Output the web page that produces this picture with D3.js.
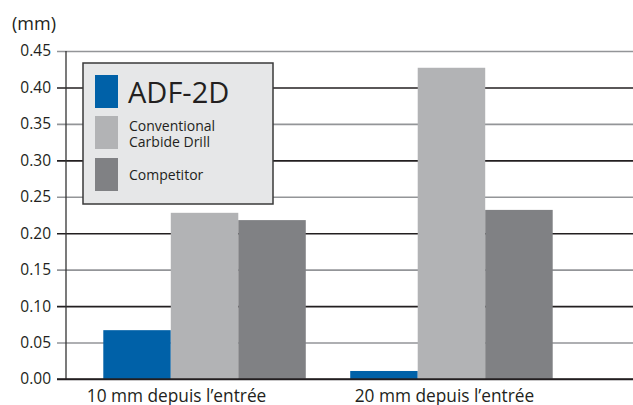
<!DOCTYPE html>
<html>
<head>
<meta charset="utf-8">
<script src="https://cdn.jsdelivr.net/npm/d3@7"></script>
<style>
  body { margin: 0; background: #fff; }
  svg { display: block; font-family: "Open Sans", sans-serif; }
</style>
</head>
<body>
<figure id="drill" style="margin:0"></figure>
<script>
// data
var groups = ["10 mm depuis l\u2019entrée", "20 mm depuis l\u2019entrée"];
var series = ["ADF-2D", "Conventional Carbide Drill", "Competitor"];
var adf = [0.067, 0.011];
var conventional = [0.228, 0.427];
var competitor = [0.218, 0.232];
var yTicks = [0, 0.05, 0.10, 0.15, 0.20, 0.25, 0.30, 0.35, 0.40, 0.45];

var values = [adf, conventional, competitor];
var data = groups.map(function(g, i) {
    return { group: g, vals: series.map(function(s, j) { return { key: s, value: values[j][i] }; }) };
});

var W = 633, H = 405;
var svg = d3.select("figure#drill")
    .append("svg")
    .attr("width", W)
    .attr("height", H);

// scales
var y = d3.scaleLinear().domain([0, 0.45]).range([379, 51]);
var x0 = d3.scaleBand().domain(groups).range([67, 589]).paddingInner(0.18).paddingOuter(0.147);
var x1 = d3.scaleBand().domain(series).range([0, x0.bandwidth()]).padding(0);
var color = d3.scaleOrdinal().domain(series).range(["#0061a8", "#b2b3b5", "#808184"]);

// grid lines, alternating dark / grey
var yAxis = svg.append("g")
    .attr("transform", "translate(66,0)")
    .call(d3.axisLeft(y).tickValues(yTicks).tickSize(9).tickPadding(6).tickFormat(d3.format(".2f")));
yAxis.select(".domain").remove();
yAxis.selectAll(".tick line")
    .attr("x2", W - 66 + 9)
    .attr("x1", -9)
    .attr("stroke", function(d, i) { return i % 2 === 0 ? "#231f20" : "#939598"; })
    .attr("stroke-width", 1.6);
yAxis.selectAll(".tick text")
    .attr("font-size", 15.5)
    .attr("fill", "#231f20")
    .attr("font-family", "Open Sans, sans-serif");

// vertical axis line
svg.append("line")
    .attr("x1", 66).attr("x2", 66)
    .attr("y1", y(0.45)).attr("y2", y(0))
    .attr("stroke", "#333")
    .attr("stroke-width", 1.3);

// unit label
svg.append("text")
    .attr("x", 12).attr("y", 30)
    .attr("font-size", 18)
    .attr("fill", "#231f20")
    .text("(mm)");

// bars
svg.append("g")
    .selectAll("g")
    .data(data)
    .enter().append("g")
    .attr("transform", function(d) { return "translate(" + x0(d.group) + ",0)"; })
    .selectAll("rect")
    .data(function(d) { return d.vals; })
    .enter().append("rect")
    .attr("x", function(d) { return x1(d.key); })
    .attr("y", function(d) { return y(d.value); })
    .attr("width", x1.bandwidth())
    .attr("height", function(d) { return y(0) - y(d.value); })
    .attr("fill", function(d) { return color(d.key); });

// baseline redrawn over the bars
svg.append("line")
    .attr("x1", 57).attr("x2", W)
    .attr("y1", y(0)).attr("y2", y(0))
    .attr("stroke", "#231f20")
    .attr("stroke-width", 1.6);

// x labels
var xAxis = svg.append("g")
    .attr("transform", "translate(0," + y(0) + ")")
    .call(d3.axisBottom(x0).tickSize(0).tickPadding(11));
xAxis.select(".domain").remove();
var labelShift = [-28, -7];
xAxis.selectAll(".tick text")
    .attr("font-size", 17.3)
    .attr("fill", "#231f20")
    .attr("font-family", "Open Sans, sans-serif")
    .attr("dx", function(d, i) { return labelShift[i]; });

// legend
var legend = svg.append("g").attr("transform", "translate(83,63)");
legend.append("rect")
    .attr("width", 190).attr("height", 141)
    .attr("fill", "#e6e7e8")
    .attr("stroke", "#3a3a3a")
    .attr("stroke-width", 1.5);
var swY = [12, 53, 95];
legend.selectAll("rect.sw")
    .data(series)
    .enter().append("rect")
    .attr("class", "sw")
    .attr("x", 12)
    .attr("y", function(d, i) { return swY[i]; })
    .attr("width", 23).attr("height", 33)
    .attr("fill", function(d) { return color(d); });
legend.append("text")
    .attr("x", 45).attr("y", 40)
    .attr("font-size", 29)
    .attr("fill", "#231f20")
    .text(series[0]);
legend.append("text")
    .attr("x", 46).attr("y", 67.5)
    .attr("font-size", 14)
    .attr("fill", "#231f20")
    .text("Conventional");
legend.append("text")
    .attr("x", 46).attr("y", 83.5)
    .attr("font-size", 14)
    .attr("fill", "#231f20")
    .text("Carbide Drill");
legend.append("text")
    .attr("x", 46).attr("y", 117)
    .attr("font-size", 14)
    .attr("fill", "#231f20")
    .text(series[2]);
</script>
</body>
</html>
